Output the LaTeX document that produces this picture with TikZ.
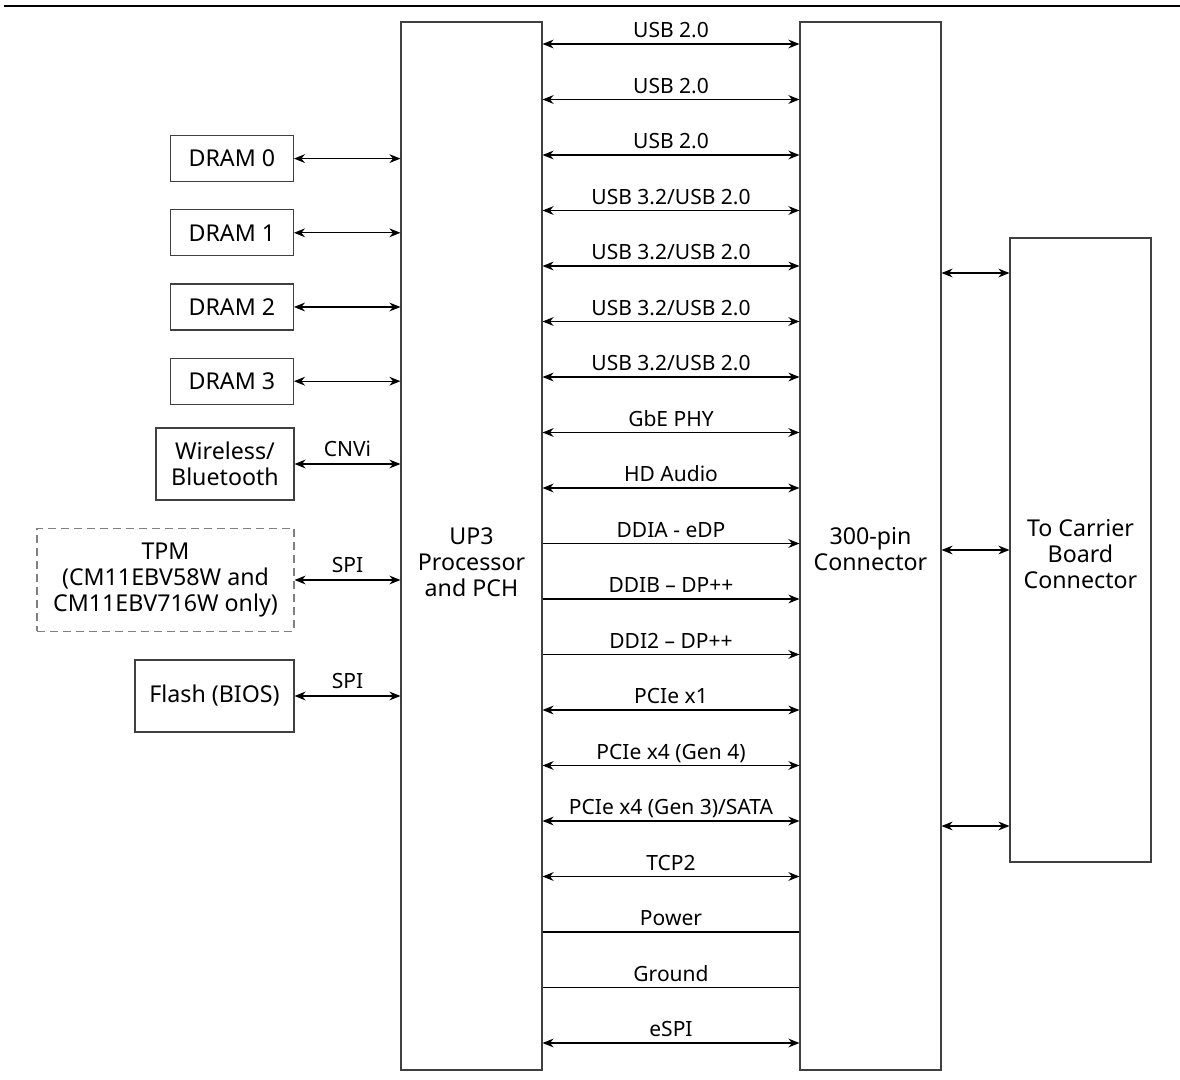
\documentclass[tikz,border=0pt]{standalone}
\usepackage{fontspec}
\setmainfont{Noto Sans}
\usepackage{tikz}
\usetikzlibrary{arrows.meta}
\usetikzlibrary{positioning}
\usetikzlibrary{calc}
\tikzset{
    every node/.style={font=\fontsize{10.5}{13}\selectfont},
    block/.style={draw=black!75, line width=0.6pt, align=center, inner sep=0pt, font=\fontsize{11.6}{13}\selectfont},
    block text/.style={align=center, font=\fontsize{11.6}{13}\selectfont},
    main block/.style={block, minimum width=70.5pt, minimum height=524pt},
    small block/.style={block, minimum width=61.5pt, minimum height=23pt},
    option block/.style={block, draw=black!50, dash pattern=on 4pt off 2.5pt},
    bus label/.style={above=0pt, inner sep=0.75pt, text height=7.6pt, text depth=2pt}
}

\begin{document}
\begin{tikzpicture}[
            x = 0.5pt, y = -0.5pt, % one unit is one pixel of the sheet
            > = {Stealth[length=5.5pt, width=4.4pt]}, % arrow head style
            line width = 0.6pt
        ]

        \useasboundingbox (0,0) rectangle (1180,1080);
        \draw[line width=1.2pt] (4,6) -- (1180,6);

        \node[main block] (soc) at (471.5,546) {};
        \node[main block] (conn) at (870.5,546) {};
        \node[block, minimum width=70.5pt, minimum height=312pt] (carrier) at (1080.5,550) {};
        \node[block text] (soc text) at ($(soc.center)+(0,16)$) {UP3\\Processor\\and PCH};
        \node[block text] (conn text) at ($(conn.center)+(0,3)$) {300-pin\\Connector};
        \node[block text] (carrier text) at ($(carrier.center)+(0,4)$) {To Carrier\\Board\\Connector};

        \node[small block, anchor=north east] (dram0) at (294,135) {DRAM 0};
        \node[small block] [below=13.5pt of dram0] (dram1) {DRAM 1};
        \node[small block] [below=13.5pt of dram1] (dram2) {DRAM 2};
        \node[small block] [below=13.5pt of dram2] (dram3) {DRAM 3};
        \node[block, minimum width=69pt, minimum height=36pt] (wifi) at (225,464) {Wireless/\\Bluetooth};
        \node[option block, minimum width=128.5pt, minimum height=51.5pt] (tpm) at (165.5,580) {TPM\\(CM11EBV58W and\\CM11EBV716W only)};
        \node[block, minimum width=79.5pt, minimum height=36pt] (flash) at (214.5,696) {Flash (BIOS)};

        % memory and side devices
        \foreach \dev in {dram0, dram1, dram2, dram3}
            \draw[<->] (\dev.east) -- (\dev.east -| soc.west);
        \draw[<->] (wifi.east) -- (wifi.east -| soc.west) node[midway, above] {CNVi};
        \draw[<->] (tpm.east) -- (tpm.east -| soc.west) node[midway, above] {SPI};
        \draw[<->] (flash.east) -- (flash.east -| soc.west) node[midway, above] {SPI};

        % buses to the 300-pin connector
        \foreach \lbl/\tip [count=\i from 0] in {USB 2.0/<->, USB 2.0/<->, USB 2.0/<->,
                {USB 3.2/USB 2.0}/<->, {USB 3.2/USB 2.0}/<->, {USB 3.2/USB 2.0}/<->, {USB 3.2/USB 2.0}/<->,
                GbE PHY/<->, HD Audio/<->, DDIA - eDP/->, DDIB -- DP++/->, DDI2 -- DP++/->,
                PCIe x1/<->, PCIe x4 (Gen 4)/<->, {PCIe x4 (Gen 3)/SATA}/<->, TCP2/<->,
                Power/-, Ground/-, eSPI/<->}
        {
            \pgfmathsetmacro{\y}{44+55.5*\i}
            \draw[\tip] (soc.east |- 0,\y) -- (conn.west |- 0,\y) node[midway, bus label] {\lbl};
        }

        % out to the carrier board
        \foreach \y in {273, 550, 826}
            \draw[<->] (conn.east |- 0,\y) -- (carrier.west |- 0,\y);

  \end{tikzpicture}
\end{document}
